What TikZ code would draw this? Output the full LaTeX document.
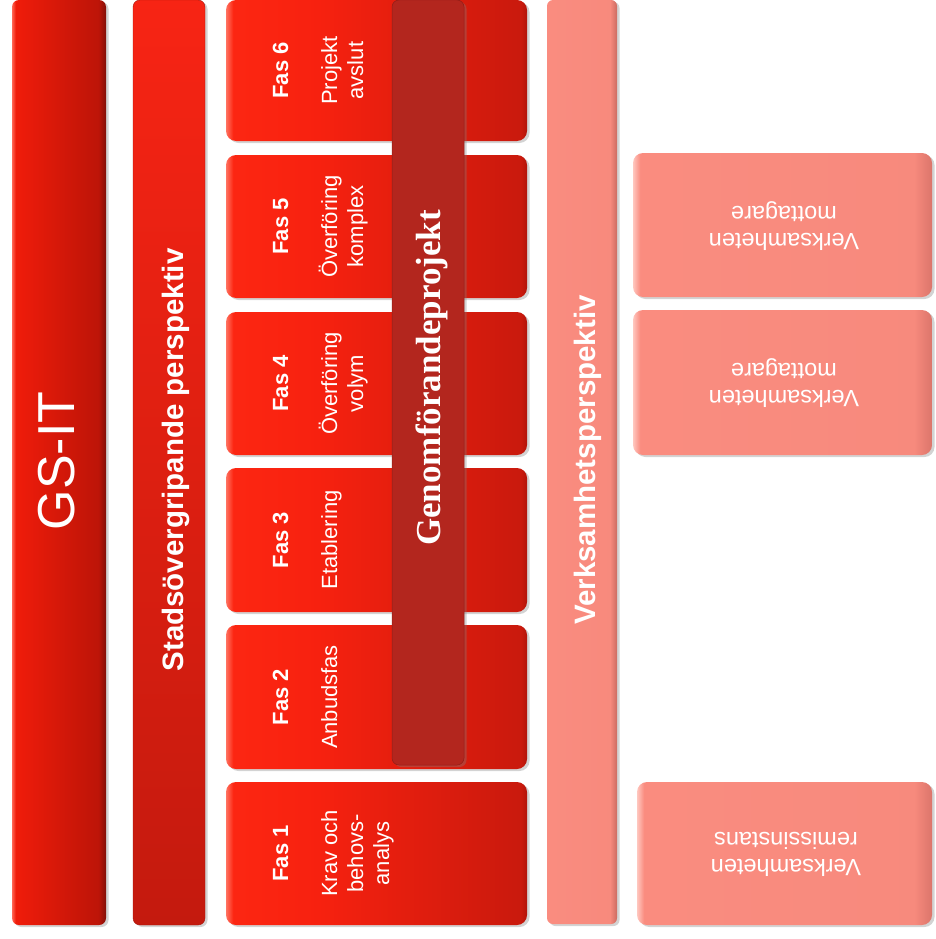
\documentclass[tikz,border=0pt]{standalone}
\usepackage{fontspec}
\setmainfont{Liberation Sans}
\newfontfamily\serifbf{Liberation Serif}
\usetikzlibrary{shadows}

\pgfdeclarehorizontalshading{phaseshade}{100bp}{rgb(0bp)=(1,0.45,0.38); rgb(25bp)=(1,0.45,0.38); rgb(26.2bp)=(0.99,0.15,0.07); rgb(40bp)=(0.97,0.13,0.06); rgb(74bp)=(0.79,0.10,0.05); rgb(75bp)=(0.70,0.08,0.04); rgb(100bp)=(0.70,0.08,0.04)}
\pgfdeclarehorizontalshading{gsshade}{100bp}{rgb(0bp)=(1,0.40,0.33); rgb(25bp)=(1,0.40,0.33); rgb(27bp)=(0.94,0.11,0.04); rgb(71bp)=(0.74,0.08,0.03); rgb(73.5bp)=(0.60,0.07,0.03); rgb(75bp)=(0.50,0.06,0.03); rgb(100bp)=(0.50,0.06,0.03)}
\pgfdeclarehorizontalshading{salmonshade}{100bp}{rgb(0bp)=(1,0.78,0.75); rgb(25bp)=(1,0.78,0.75); rgb(26.2bp)=(0.98,0.55,0.50); rgb(72bp)=(0.97,0.54,0.49); rgb(75bp)=(0.86,0.46,0.42); rgb(100bp)=(0.86,0.46,0.42)}
\pgfdeclarehorizontalshading{salmonbar}{100bp}{rgb(0bp)=(0.98,0.55,0.50); rgb(25bp)=(0.98,0.55,0.50); rgb(70bp)=(0.97,0.54,0.49); rgb(75bp)=(0.80,0.42,0.38); rgb(100bp)=(0.80,0.42,0.38)}

\definecolor{genred}{HTML}{B3261E}
\definecolor{stadstop}{HTML}{F72414}
\definecolor{stadsbot}{HTML}{C41A0E}

\tikzset{
  shadowed/.style={drop shadow={opacity=0.35, shadow xshift=2.5pt, shadow yshift=-2pt}},
  gsbar/.style={shadowed, rounded corners=7pt, shading=gsshade},
  stadsbar/.style={shadowed, rounded corners=7pt, top color=stadstop, bottom color=stadsbot, draw=stadsbot!85!black, line width=0.4pt},
  phasebox/.style={shadowed, rounded corners=10pt, shading=phaseshade},
  genbar/.style={shadowed, rounded corners=7pt, fill=genred, draw=genred!80!black, line width=0.5pt},
  verksbar/.style={shadowed, rounded corners=6pt, shading=salmonbar},
  salmonbox/.style={shadowed, rounded corners=10pt, shading=salmonshade},
  wt/.style={text=white, inner sep=0pt},
  fas/.style={wt, rotate=90, anchor=base, font=\bfseries\fontsize{22}{26}\selectfont},
  desc/.style={wt, rotate=90, anchor=north, align=center, font=\fontsize{22}{26}\selectfont},
  rbox/.style={wt, rotate=180, align=center, font=\fontsize{23.5}{27}\selectfont},
  bigtitle/.style={wt, rotate=90, anchor=base, font=\bfseries\fontsize{29.5}{34}\selectfont},
}

\begin{document}
\begin{tikzpicture}
\useasboundingbox (0,0) rectangle (935pt,-939pt);
\begin{scope}[x=1pt,y=1pt]
% left bars
\path[gsbar] (12,0) rectangle (106,-925);
\path[stadsbar] (133,0) rectangle (205,-925);
% phase boxes
\path[phasebox] (226,0) rectangle (527,-141);
\path[phasebox] (226,-155) rectangle (527,-298);
\path[phasebox] (226,-312) rectangle (527,-455);
\path[phasebox] (226,-468) rectangle (527,-612);
\path[phasebox] (226,-625) rectangle (527,-769);
\path[phasebox] (226,-782) rectangle (527,-925);
% Genomforandeprojekt bar
\path[genbar] (392,0) rectangle (464,-765);
% Verksamhetsperspektiv bar
\path[verksbar] (547,0) rectangle (617,-924);
% right boxes
\path[salmonbox] (633,-153) rectangle (932,-297);
\path[salmonbox] (633,-310) rectangle (932,-455);
\path[salmonbox] (637,-782) rectangle (932,-925);

% texts
\node[wt, rotate=90, font=\fontsize{52}{60}\selectfont] (gsit) at (57,-461) {GS-IT};
\node[bigtitle] (stads) at (183,-460) {Stadsövergripande perspektiv};
\node[bigtitle] (verks) at (595,-460) {Verksamhetsperspektiv};
\node[wt, rotate=90, anchor=base, font=\serifbf\bfseries\fontsize{35}{40}\selectfont] (genom) at (440,-378) {Genomförandeprojekt};

\node[fas] (f6) at (288,-70.5) {Fas 6};
\node[fas] (f5) at (288,-226.5) {Fas 5};
\node[fas] (f4) at (288,-383.5) {Fas 4};
\node[fas] (f3) at (288,-540) {Fas 3};
\node[fas] (f2) at (288,-697) {Fas 2};
\node[fas] (f1) at (288,-853.5) {Fas 1};

\node[desc] (d6) at (317,-70.5) {\rule{0pt}{20pt}Projekt\\avslut};
\node[desc] (d5) at (317,-226.5) {\rule{0pt}{20pt}Överföring\\komplex};
\node[desc] (d4) at (317,-383.5) {\rule{0pt}{20pt}Överföring\\volym};
\node[desc] (d3) at (317,-540) {\rule{0pt}{20pt}Etablering};
\node[desc] (d2) at (317,-697) {\rule{0pt}{20pt}Anbudsfas};
\node[desc] (d1) at (317,-853.5) {\rule{0pt}{20pt}Krav och\\behovs-\\analys};

\node[rbox] (ra) at (784,-226) {Verksamheten\\mottagare};
\node[rbox] (rb) at (784,-383) {Verksamheten\\mottagare};
\node[rbox] (rc) at (786,-854) {Verksamheten\\remissinstans};
\end{scope}
\end{tikzpicture}
\end{document}
